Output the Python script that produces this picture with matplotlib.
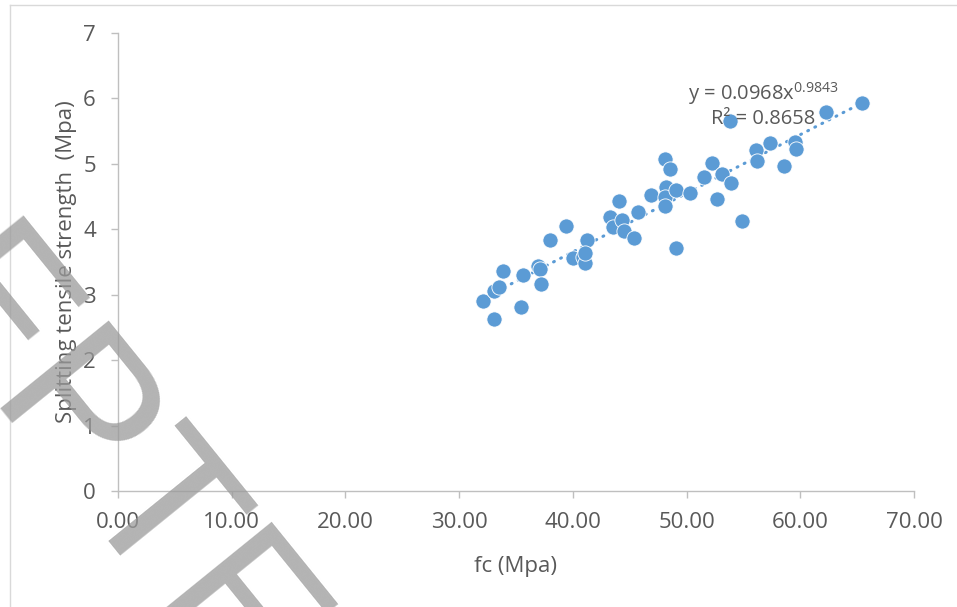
import numpy as np
import matplotlib
matplotlib.use('Agg')
import matplotlib.pyplot as plt

# fc (Mpa) / splitting tensile strength (Mpa)
fc = [32.1, 33.1, 33.1, 33.5, 33.9, 35.4, 35.6, 36.9, 37.1, 37.2,
      38.0, 39.4, 40.0, 40.9, 41.1, 41.2, 41.1, 43.3, 43.5, 44.1,
      44.3, 44.5, 45.4, 45.7, 46.9, 48.1, 48.5, 48.2, 48.1, 48.1,
      49.1, 49.1, 50.3, 51.5, 52.2, 52.7, 53.1, 53.8, 53.9, 54.9,
      56.1, 56.2, 57.3, 58.6, 59.5, 59.6, 62.3, 65.4]
fst = [2.91, 2.63, 3.05, 3.12, 3.36, 2.81, 3.30, 3.44, 3.40, 3.16,
       3.84, 4.05, 3.56, 3.58, 3.48, 3.83, 3.64, 4.19, 4.04, 4.43,
       4.14, 3.97, 3.87, 4.27, 4.52, 5.08, 4.92, 4.65, 4.50, 4.36,
       4.60, 3.72, 4.55, 4.80, 5.02, 4.47, 4.84, 5.65, 4.70, 4.13,
       5.21, 5.05, 5.32, 4.96, 5.34, 5.22, 5.79, 5.93]

# power trendline shown on the chart
coef_a = 0.0968
coef_b = 0.9843
r2 = 0.8658

xticks = [0, 10, 20, 30, 40, 50, 60, 70]
yticks = [0, 1, 2, 3, 4, 5, 6, 7]

plt.rcParams['font.family'] = ['Open Sans', 'DejaVu Sans']
blue = '#5B9BD5'
grey_txt = '#595959'
grey_line = '#BFBFBF'

fig = plt.figure(figsize=(9.57, 6.07), dpi=100)
ax = fig.add_axes([118 / 957, 1 - 491 / 607, (914 - 118) / 957, (491 - 33) / 607])

# chart border (left and top edges visible)
fig.add_artist(plt.Line2D([10 / 957, 10 / 957], [0, 1 - 5 / 607], color='#D9D9D9', lw=1))
fig.add_artist(plt.Line2D([10 / 957, 1], [1 - 5 / 607, 1 - 5 / 607], color='#D9D9D9', lw=1))

ax.scatter(fc, fst, s=120, color=blue, edgecolors='white', linewidths=0.6, zorder=3)

xt = np.linspace(min(fc), max(fc), 100)
ax.plot(xt, coef_a * xt ** coef_b, color=blue, lw=2.2,
        linestyle=(0, (0.3, 2.3)), dash_capstyle='round', zorder=2)

ax.set_xlim(0, 70)
ax.set_ylim(0, 7)
ax.set_xticks(xticks)
ax.set_xticklabels([f'{v:.2f}' for v in xticks])
ax.set_yticks(yticks)

for side in ['top', 'right']:
    ax.spines[side].set_visible(False)
for side in ['left', 'bottom']:
    ax.spines[side].set_color(grey_line)
    ax.spines[side].set_linewidth(1)
ax.tick_params(colors=grey_line, labelcolor=grey_txt, labelsize=16, length=5, width=1)
ax.tick_params(axis='x', pad=10)
ax.tick_params(axis='y', pad=11)

ax.set_xlabel('fc (Mpa)', fontsize=16, color=grey_txt, labelpad=17)
ax.set_ylabel('Splitting tensile strength  (Mpa)', fontsize=16, color=grey_txt, labelpad=4)

ax.text(63.4, 6.07, 'y = 0.0968x$^{\\mathregular{0.9843}}$', fontsize=14.5, color=grey_txt,
        ha='right', va='center')
ax.text(61.3, 5.68, f'R² = {r2}', fontsize=14.5, color=grey_txt, ha='right', va='center')

# ACCEPTED watermark running down to the right
fig.text(-0.381, 1.069, 'ACCEPTED', fontsize=146, color='#9A9A9A', alpha=0.75,
         family=['Liberation Sans Narrow', 'Liberation Sans'], rotation=-51,
         rotation_mode='anchor', ha='left', va='baseline', zorder=10)

fig.savefig('out.png', dpi=100)
